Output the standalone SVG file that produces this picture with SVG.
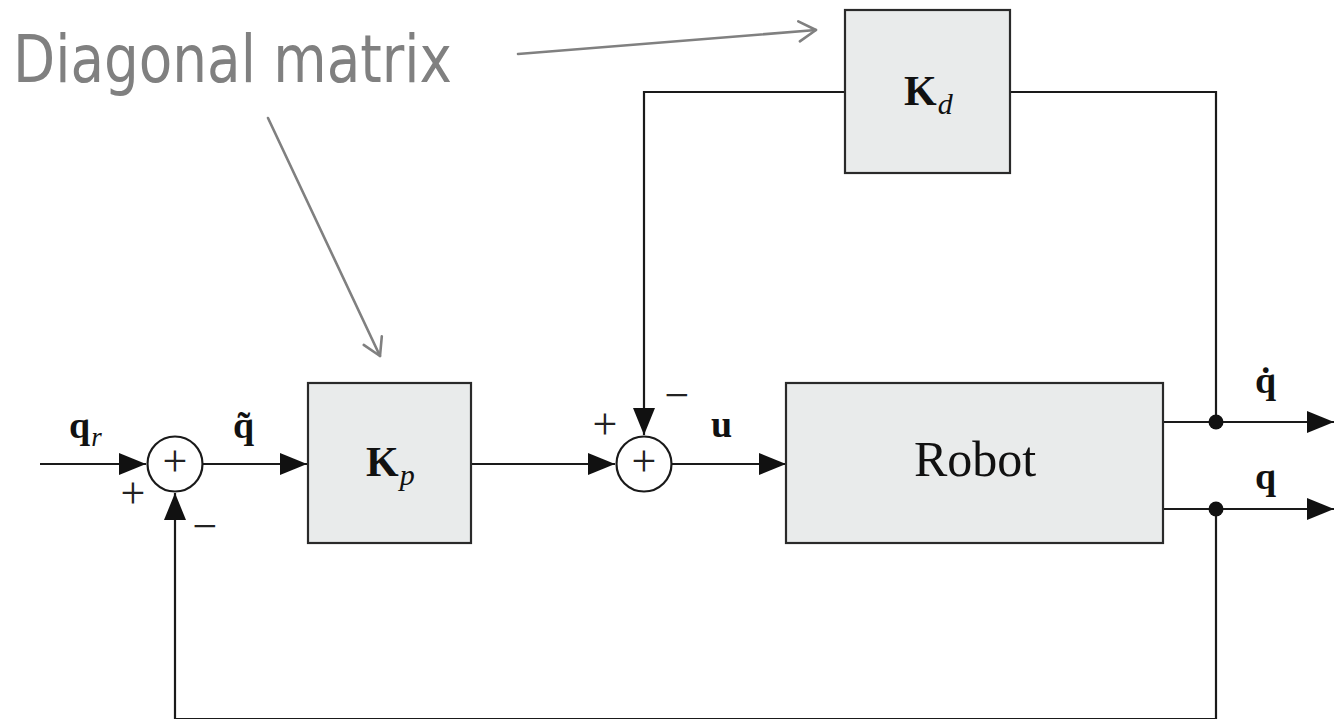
<svg xmlns="http://www.w3.org/2000/svg" width="1334" height="719" viewBox="0 0 1334 719">
<style>
.box{fill:#e9ebeb;stroke:#2a2a2a;stroke-width:2.2}
.wire{fill:none;stroke:#1a1a1a;stroke-width:2.2}
.sum{fill:#fff;stroke:#1a1a1a;stroke-width:2.2}
.note{fill:none;stroke:#808080;stroke-width:2.6;stroke-linecap:round;stroke-linejoin:round}
.serif{font-family:"Liberation Serif","Times New Roman",serif;fill:#111}
.b{font-weight:bold}
.i{font-style:italic;font-weight:normal}
.sign{font-family:"Liberation Serif","Times New Roman",serif;fill:#222;font-size:44px;text-anchor:middle}
.ann{font-family:"DejaVu Sans Condensed","DejaVu Sans",sans-serif;font-stretch:condensed;fill:#808080}
</style>
<defs>
<marker id="ah" markerUnits="userSpaceOnUse" markerWidth="28" markerHeight="24" refX="27" refY="12" orient="auto">
<path d="M0,1 L27,12 L0,23 Z" fill="#111"/>
</marker>
<marker id="open" markerUnits="userSpaceOnUse" markerWidth="30" markerHeight="30" refX="20" refY="15" orient="auto">
<path d="M3,5 L20,15 L3,25" fill="none" stroke="#808080" stroke-width="2.6" stroke-linecap="round" stroke-linejoin="round"/>
</marker>
</defs>

<g id="connectors">
<path class="wire" d="M40,464 H146" marker-end="url(#ah)"/>
<path class="wire" d="M203,464 H307" marker-end="url(#ah)"/>
<path class="wire" d="M471,464 H615" marker-end="url(#ah)"/>
<path class="wire" d="M672,464 H786" marker-end="url(#ah)"/>
<path class="wire" d="M1163,422 H1334" marker-end="url(#ah)"/>
<path class="wire" d="M1163,509 H1334" marker-end="url(#ah)"/>
<path class="wire" d="M1216,422 V92 H1010"/>
<path class="wire" d="M845,92 H644 V435" marker-end="url(#ah)"/>
<path class="wire" d="M1216,509 V719 H175 V493" marker-end="url(#ah)"/>
<circle cx="1216" cy="422" r="7.5" fill="#111"/>
<circle cx="1216" cy="509" r="7.5" fill="#111"/>
</g>

<g id="Kd">
<rect class="box" x="845" y="10" width="165" height="163"/>
<text class="serif b" x="904" y="105" font-size="42">K<tspan class="i" font-size="30" dx="1" dy="9">d</tspan></text>
</g>

<g id="Kp">
<rect class="box" x="308" y="383" width="163" height="160"/>
<text class="serif b" x="366" y="476" font-size="42">K<tspan class="i" font-size="30" dx="1" dy="9">p</tspan></text>
</g>

<g id="Robot">
<rect class="box" x="786" y="383" width="377" height="160"/>
<text class="serif" x="975" y="476" font-size="50" text-anchor="middle">Robot</text>
</g>

<g id="sum1">
<circle class="sum" cx="175" cy="464" r="27.5"/>
<text class="sign" x="175" y="476" font-size="44">+</text>
<text class="sign" x="133" y="508">+</text>
<text class="sign" x="205" y="541">−</text>
</g>

<g id="sum2">
<circle class="sum" cx="644" cy="464" r="27.5"/>
<text class="sign" x="644" y="476">+</text>
<text class="sign" x="605" y="439">+</text>
<text class="sign" x="677" y="410">−</text>
</g>

<g id="labels">
<text class="serif b" x="69" y="438" font-size="38">q<tspan class="i" font-size="27" dx="1" dy="8">r</tspan></text>
<text class="serif b" x="233" y="438" font-size="38">q̃</text>
<text class="serif b" x="711" y="437" font-size="38">u</text>
<text class="serif b" x="1255" y="393" font-size="38">q̇</text>
<text class="serif b" x="1255" y="489" font-size="38">q</text>
</g>

<g id="annotation">
<text class="ann" x="13" y="82" font-size="65" textLength="439" lengthAdjust="spacingAndGlyphs">Diagonal matrix</text>
<path class="note" d="M518,54 L816,30" marker-end="url(#open)"/>
<path class="note" d="M268,118 L380,356" marker-end="url(#open)"/>
</g>
</svg>
